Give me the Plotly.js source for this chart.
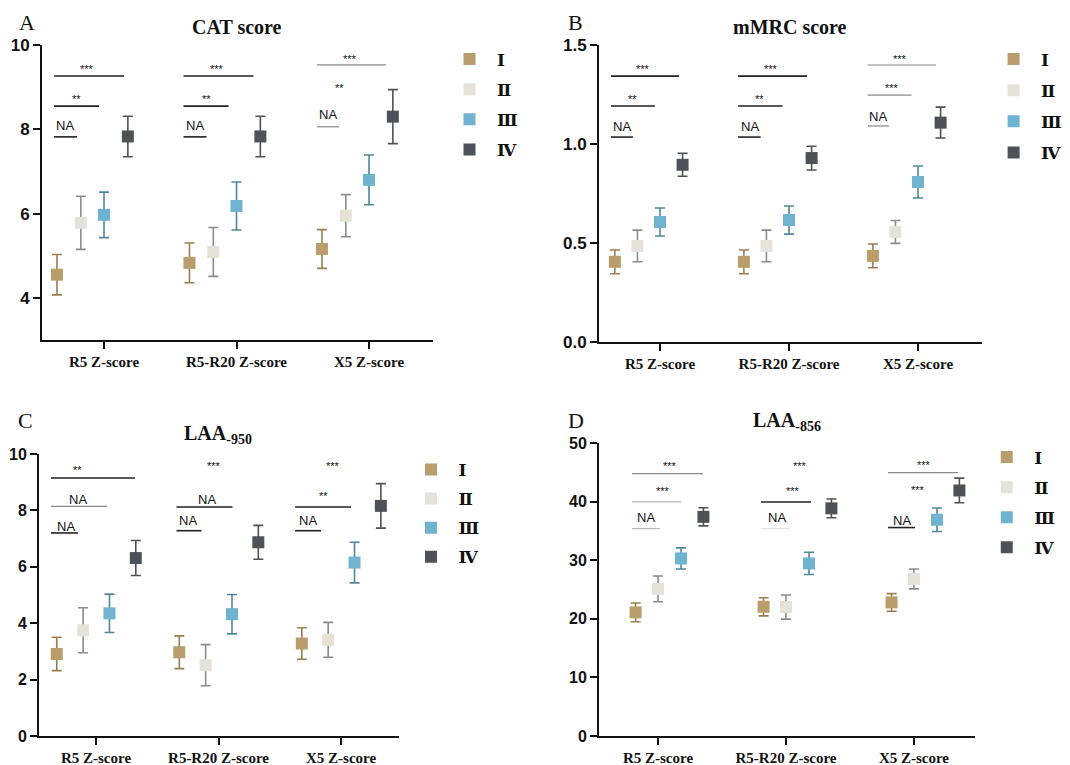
<!DOCTYPE html>
<html>
<head>
<meta charset="utf-8">
<script src="https://cdn.plot.ly/plotly-3.0.1.min.js"></script>
<style>html,body{margin:0;padding:0;background:#fff;}#chart{width:1070px;height:765px;}</style>
</head>
<body>
<div id="chart"></div>
<script>
// ---------- data ----------
const categories = ["R5 Z-score", "R5-R20 Z-score", "X5 Z-score"];
const groupNames = ["Ⅰ", "Ⅱ", "Ⅲ", "Ⅳ"];

// Panel A: CAT score (mean, half error bar)
const catI_mean = [4.55, 4.83, 5.16],  catI_err = [0.48, 0.47, 0.46];
const catII_mean = [5.78, 5.09, 5.95], catII_err = [0.63, 0.58, 0.50];
const catIII_mean = [5.97, 6.18, 6.80], catIII_err = [0.54, 0.57, 0.59];
const catIV_mean = [7.83, 7.83, 8.30], catIV_err = [0.48, 0.48, 0.64];

// Panel B: mMRC score
const mmrcI_mean = [0.405, 0.405, 0.435],  mmrcI_err = [0.060, 0.060, 0.060];
const mmrcII_mean = [0.485, 0.485, 0.556], mmrcII_err = [0.080, 0.080, 0.058];
const mmrcIII_mean = [0.606, 0.616, 0.808], mmrcIII_err = [0.071, 0.071, 0.081];
const mmrcIV_mean = [0.895, 0.929, 1.108], mmrcIV_err = [0.058, 0.060, 0.078];

// Panel C: LAA-950
const l950I_mean = [2.91, 2.97, 3.28],  l950I_err = [0.59, 0.58, 0.56];
const l950II_mean = [3.75, 2.51, 3.41], l950II_err = [0.80, 0.73, 0.62];
const l950III_mean = [4.35, 4.32, 6.15], l950III_err = [0.68, 0.70, 0.72];
const l950IV_mean = [6.31, 6.87, 8.16], l950IV_err = [0.62, 0.60, 0.79];

// Panel D: LAA-856
const l856I_mean = [21.1, 22.05, 22.8],  l856I_err = [1.6, 1.55, 1.5];
const l856II_mean = [25.1, 22.0, 26.8],  l856II_err = [2.2, 2.05, 1.7];
const l856III_mean = [30.3, 29.45, 36.9], l856III_err = [1.8, 1.9, 2.0];
const l856IV_mean = [37.4, 38.85, 41.9], l856IV_err = [1.55, 1.6, 2.1];

// significance marks: [category, lineFrom, lineTo, lineY, label, labelX, labelY, tone]
// (lineFrom/lineTo/labelX are offsets from the category centre; null line = label only)
const sigA = [
  [0, -0.377, 0.151, 9.265, "***", -0.128, 9.43, 0],
  [0, -0.377, -0.038, 8.55, "**", -0.204, 8.72, 0],
  [0, -0.377, -0.204, 7.82, "NA", -0.294, 8.08, 0],
  [1, -0.40, 0.128, 9.265, "***", -0.15, 9.43, 0],
  [1, -0.40, -0.06, 8.55, "**", -0.226, 8.72, 0],
  [1, -0.40, -0.226, 7.82, "NA", -0.31, 8.08, 0],
  [2, -0.392, 0.128, 9.53, "***", -0.143, 9.67, 1],
  [2, null, null, null, "**", -0.226, 8.98, 1],
  [2, -0.392, -0.226, 8.06, "NA", -0.31, 8.34, 1]
];
const sigB = [
  [0, -0.38, 0.147, 1.343, "***", -0.13, 1.379, 0],
  [0, -0.38, -0.04, 1.192, "**", -0.21, 1.227, 0],
  [0, -0.38, -0.21, 1.035, "NA", -0.295, 1.086, 0],
  [1, -0.395, 0.14, 1.343, "***", -0.14, 1.379, 0],
  [1, -0.395, -0.05, 1.192, "**", -0.225, 1.227, 0],
  [1, -0.395, -0.22, 1.035, "NA", -0.30, 1.086, 0],
  [2, -0.39, 0.14, 1.399, "***", -0.14, 1.43, 1],
  [2, -0.39, -0.05, 1.247, "***", -0.20, 1.283, 1],
  [2, -0.39, -0.225, 1.091, "NA", -0.31, 1.141, 1]
];
const sigC = [
  [0, -0.367, 0.318, 9.15, "**", -0.147, 9.44, 0],
  [0, -0.367, 0.09, 8.14, "NA", -0.147, 8.40, 1],
  [0, -0.367, -0.147, 7.20, "NA", -0.245, 7.43, 0],
  [1, null, null, null, "***", -0.04, 9.56, 0],
  [1, -0.343, 0.114, 8.12, "NA", -0.09, 8.40, 0],
  [1, -0.343, -0.139, 7.28, "NA", -0.245, 7.63, 0],
  [2, null, null, null, "***", -0.065, 9.56, 0],
  [2, -0.375, 0.082, 8.12, "**", -0.147, 8.50, 0],
  [2, -0.375, -0.163, 7.28, "NA", -0.27, 7.63, 0]
];
const sigD = [
  [0, -0.203, 0.352, 44.77, "***", 0.094, 46.0, 1],
  [0, -0.203, 0.18, 39.94, "***", 0.04, 41.8, 2],
  [0, -0.203, 0.016, 35.4, "NA", -0.094, 37.27, 2],
  [1, null, null, null, "***", 0.11, 46.0, 0],
  [1, -0.195, 0.195, 39.94, "***", 0.055, 41.8, 0],
  [1, -0.195, 0.03, 35.4, "NA", -0.07, 37.27, 3],
  [2, -0.203, 0.344, 44.94, "***", 0.078, 46.2, 1],
  [2, null, null, null, "***", 0.03, 41.93, 0],
  [2, -0.203, 0.008, 35.57, "NA", -0.094, 36.8, 0]
];

// ---------- styles ----------
const markerColors = ["#b99d6b", "#e6e2d8", "#6fb3d0", "#4e5258"];
const barColors = ["#9a7e50", "#8c8c8c", "#4f8898", "#4e5258"];
const toneColors = ["#222222", "#8a8a8a", "#b8b8b8", "#e4e4e4"];
const SERIF = "Liberation Serif, Times New Roman, serif";
const SANS = "Liberation Sans, Arial, sans-serif";
const ROMAN = "DejaVu Serif, serif";

const panels = [
  {key: "", means: [catI_mean, catII_mean, catIII_mean, catIV_mean], errs: [catI_err, catII_err, catIII_err, catIV_err],
   offsets: [-0.355, -0.175, 0, 0.18], sig: sigA, legend: "legend2",
   xdom: [0.03925, 0.40467], xr: [-0.468, 2.483], ydom: [0.55556, 0.94118], yr: [3, 10], dtick: 2, tickfmt: "",
   tickfs: 17, title: "CAT score", tx: 0.2215, ty: 0.9647, letter: "A", lx: 0.0252, ly: 0.9712},
  {key: "2", means: [mmrcI_mean, mmrcII_mean, mmrcIII_mean, mmrcIV_mean], errs: [mmrcI_err, mmrcII_err, mmrcIII_err, mmrcIV_err],
   offsets: [-0.35, -0.175, 0, 0.175], sig: sigB, legend: "legend3",
   xdom: [0.55981, 0.91776], xr: [-0.473, 2.496], ydom: [0.55294, 0.94118], yr: [0, 1.5], dtick: 0.5, tickfmt: ".1f",
   tickfs: 17, title: "mMRC score", tx: 0.7383, ty: 0.9647, letter: "B", lx: 0.5374, ly: 0.9712},
  {key: "3", means: [l950I_mean, l950II_mean, l950III_mean, l950IV_mean], errs: [l950I_err, l950II_err, l950III_err, l950IV_err],
   offsets: [-0.32, -0.105, 0.11, 0.325], sig: sigC, legend: "legend4",
   xdom: [0.03645, 0.37290], xr: [-0.465, 2.473], ydom: [0.03791, 0.40654], yr: [0, 10], dtick: 2, tickfmt: "",
   tickfs: 16, title: "LAA<sub>-950</sub>", tx: 0.2037, ty: 0.4314, letter: "C", lx: 0.0234, ly: 0.4497},
  {key: "4", means: [l856I_mean, l856II_mean, l856III_mean, l856IV_mean], errs: [l856I_err, l856II_err, l856III_err, l856IV_err],
   offsets: [-0.175, 0, 0.18, 0.355], sig: sigD, legend: "legend5",
   xdom: [0.55981, 0.91121], xr: [-0.461, 2.477], ydom: [0.03791, 0.42092], yr: [0, 50], dtick: 10, tickfmt: "",
   tickfs: 16, title: "LAA<sub>-856</sub>", tx: 0.7355, ty: 0.4484, letter: "D", lx: 0.5383, ly: 0.4497}
];

const legendPos = {
  legend2: {x: 0.4131, y: 0.9457, gap: 5},
  legend3: {x: 0.9216, y: 0.9457, gap: 6},
  legend4: {x: 0.3771, y: 0.4092, gap: 4},
  legend5: {x: 0.9152, y: 0.4255, gap: 5}
};

const traces = [];
const layout = {
  width: 1070, height: 765,
  margin: {l: 0, r: 0, t: 0, b: 0},
  paper_bgcolor: "#ffffff", plot_bgcolor: "#ffffff",
  showlegend: true,
  annotations: [], shapes: []
};

panels.forEach(p => {
  const xa = "x" + p.key, ya = "y" + p.key;
  groupNames.forEach((g, gi) => {
    traces.push({
      type: "scatter", mode: "markers",
      name: g, legend: p.legend, legendgroup: p.legend + gi,
      x: categories.map((c, ci) => ci + p.offsets[gi]),
      y: p.means[gi],
      xaxis: xa, yaxis: ya,
      marker: {symbol: "square", size: 12, color: markerColors[gi]},
      error_y: {type: "data", array: p.errs[gi], visible: true, color: barColors[gi], thickness: 1.6, width: 5},
      hoverinfo: "skip"
    });
  });
  layout["xaxis" + p.key] = {
    domain: p.xdom, range: p.xr, anchor: ya,
    tickmode: "array", tickvals: [0, 1, 2], ticktext: categories,
    showline: true, linecolor: "#111", linewidth: 2, showgrid: false, zeroline: false,
    ticks: "outside", ticklen: 7, tickwidth: 2, tickcolor: "#111",
    tickfont: {family: SERIF, size: 15, color: "#111", weight: "bold"}, fixedrange: true
  };
  layout["yaxis" + p.key] = {
    domain: p.ydom, range: p.yr, anchor: xa,
    tickmode: "linear", tick0: 0, dtick: p.dtick, tickformat: p.tickfmt,
    showline: true, linecolor: "#111", linewidth: 2, showgrid: false, zeroline: false,
    ticks: "outside", ticklen: 7, tickwidth: 2, tickcolor: "#111",
    tickfont: {family: SANS, size: p.tickfs, color: "#111", weight: "bold"}, fixedrange: true
  };
  const lp = legendPos[p.legend];
  layout[p.legend] = {
    x: lp.x, y: lp.y, xref: "paper", yref: "paper", xanchor: "left", yanchor: "top",
    traceorder: "grouped", tracegroupgap: lp.gap, itemwidth: 45, itemsizing: "constant",
    font: {family: ROMAN, size: 17, color: "#111", weight: "bold"}, bgcolor: "rgba(0,0,0,0)"
  };
  layout.annotations.push({
    xref: "paper", yref: "paper", x: p.tx, y: p.ty, xanchor: "center", yanchor: "middle",
    text: "<b>" + p.title + "</b>", showarrow: false,
    font: {family: SERIF, size: 20, color: "#111"}
  });
  layout.annotations.push({
    xref: "paper", yref: "paper", x: p.lx, y: p.ly, xanchor: "center", yanchor: "middle",
    text: p.letter, showarrow: false, font: {family: SERIF, size: 22, color: "#111"}
  });
  p.sig.forEach(s => {
    const [ci, f, t, ly, lab, lxo, lyy, tone] = s;
    if (f !== null) {
      layout.shapes.push({
        type: "line", xref: xa, yref: ya, x0: ci + f, x1: ci + t, y0: ly, y1: ly,
        line: {color: toneColors[tone], width: tone === 0 ? 1.6 : 1.2}
      });
    }
    const isNA = lab === "NA";
    layout.annotations.push({
      xref: xa, yref: ya, x: ci + lxo, y: lyy, xanchor: "center", yanchor: "middle",
      text: lab, showarrow: false,
      font: {family: SANS, size: isNA ? 13 : 11, color: "#111"}
    });
  });
});

Plotly.newPlot("chart", traces, layout, {displayModeBar: false, staticPlot: true});
</script>
</body>
</html>
